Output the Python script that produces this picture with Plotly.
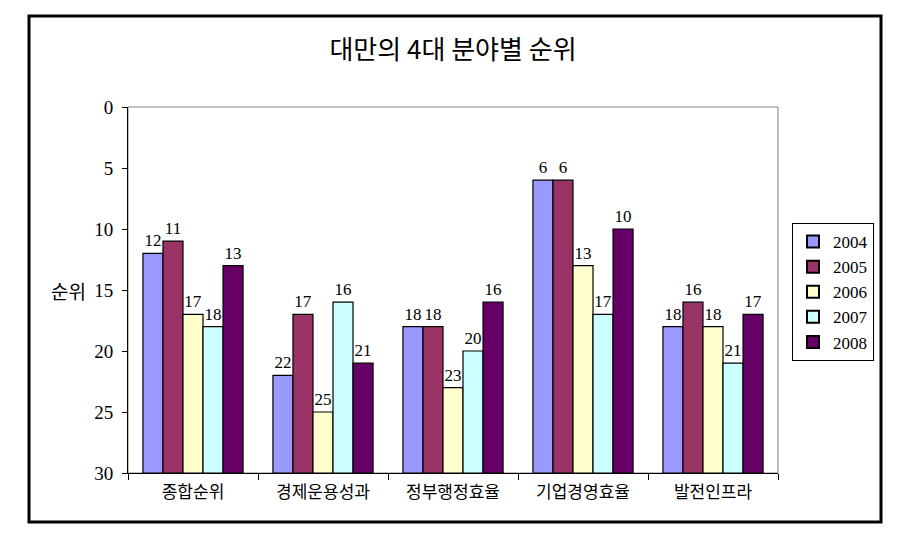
import plotly.graph_objects as go

categories = ["종합순위", "경제운용성과", "정부행정효율", "기업경영효율", "발전인프라"]
years = ["2004", "2005", "2006", "2007", "2008"]
ranks = {
    "2004": [12, 22, 18, 6, 18],
    "2005": [11, 17, 18, 6, 16],
    "2006": [17, 25, 23, 13, 18],
    "2007": [18, 16, 20, 17, 21],
    "2008": [13, 21, 16, 10, 17],
}
colors = {
    "2004": "#9999FF",
    "2005": "#993366",
    "2006": "#FFFFCC",
    "2007": "#CCFFFF",
    "2008": "#660066",
}
y_bottom = 30
y_ticks = [0, 5, 10, 15, 20, 25, 30]

serif = "Liberation Serif, DejaVu Serif, serif"
kr = "Noto Sans CJK KR, sans-serif"

fig = go.Figure()
for yr in years:
    vals = ranks[yr]
    fig.add_trace(go.Bar(
        name=yr,
        x=categories,
        y=[v - y_bottom for v in vals],
        base=y_bottom,
        text=[str(v) for v in vals],
        textposition="outside",
        textfont=dict(family=serif, size=17, color="#000000"),
        marker=dict(color=colors[yr], line=dict(color="#000000", width=1.2)),
        cliponaxis=False,
        hovertext=[f"{c} {yr}: {v}" for c, v in zip(categories, vals)],
        hoverinfo="text",
    ))

W, H = 906, 554
L, R, T, B = 128, 778, 107, 473
pw, ph = R - L, B - T

def px(x):
    return (x - L) / pw

def py(y):
    return (B - y) / ph

fig.update_layout(
    width=W, height=H,
    margin=dict(l=L, r=W - R, t=T, b=H - B),
    paper_bgcolor="white", plot_bgcolor="white",
    barmode="group", bargap=0.23, bargroupgap=0,
    title=dict(text="대만의 4대 분야별 순위", x=px(453), xref="paper", xanchor="center",
               y=1 - 50 / H, yref="container", yanchor="middle",
               font=dict(family=kr, size=26, color="#000000")),
    showlegend=True,
    legend=dict(x=px(792), y=py(223), xanchor="left", yanchor="top",
                bordercolor="#000000", borderwidth=1, bgcolor="white",
                font=dict(family=serif, size=17, color="#000000"),
                tracegroupgap=0, itemsizing="constant", itemwidth=30),
    font=dict(family=serif),
)
fig.update_yaxes(
    range=[y_bottom, 0], tickvals=y_ticks, ticks="outside", ticklen=5,
    tickcolor="#000000", showline=True, linecolor="#000000", linewidth=1,
    showgrid=False, zeroline=False, ticklabelstandoff=5,
    tickfont=dict(family=serif, size=19, color="#000000"),
)
fig.update_xaxes(
    type="category", tickson="boundaries", ticks="outside", ticklen=6,
    tickcolor="#000000", showline=True, linecolor="#000000", linewidth=1,
    showgrid=False, ticklabelstandoff=4,
    tickfont=dict(family=kr, size=17, color="#000000"),
)
# plot-area grey frame (top/right)
fig.add_shape(type="rect", xref="paper", yref="paper", x0=0, x1=1, y0=0, y1=1,
              line=dict(color="#808080", width=1), layer="below")
# outer border
fig.add_shape(type="rect", xref="paper", yref="paper",
              x0=px(29), x1=px(881), y0=py(522), y1=py(16),
              line=dict(color="#000000", width=3))
fig.add_annotation(text="순위", xref="paper", yref="paper", x=px(68), y=py(290),
                   showarrow=False, font=dict(family=kr, size=19, color="#000000"),
                   xanchor="center", yanchor="middle")

fig.write_html("out.html")
